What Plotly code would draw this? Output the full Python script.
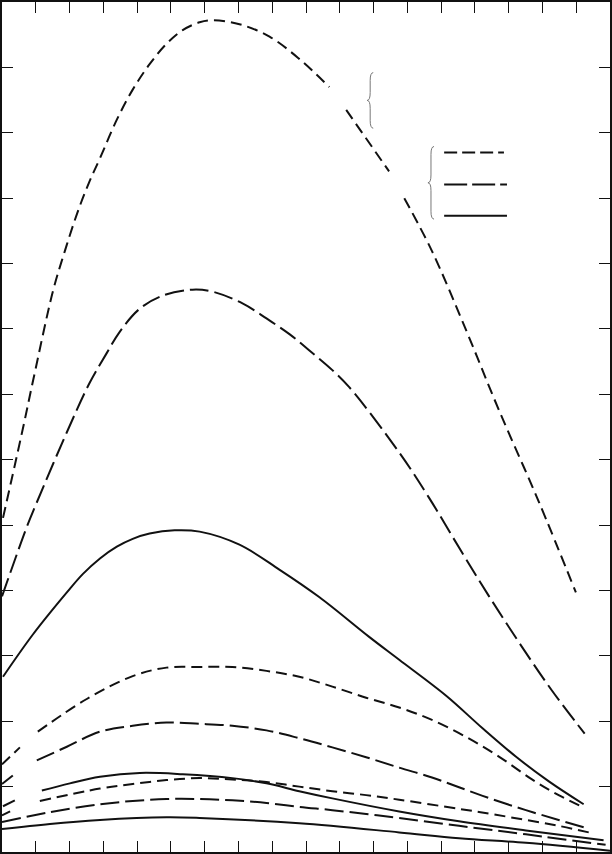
import plotly.graph_objects as go

# ---- data (x in axis units 0..18, y in axis units 0..13) ----
# upper group
x_up_short = [0.03, 0.62, 0.92, 1.51, 1.86, 2.22, 2.57, 2.90, 3.40, 3.87, 4.37, 4.87, 5.35, 5.85, 6.23,
              7.03, 7.92, 8.80, 9.69, None, 10.19, 11.46, None, 11.91, 12.73, 13.74, 14.71, 15.89, 16.99]
y_up_short = [5.11, 6.48, 7.21, 8.58, 9.19, 9.76, 10.23, 10.61, 11.20, 11.66, 12.05, 12.36, 12.57, 12.69, 12.72,
              12.66, 12.47, 12.13, 11.70, None, 11.35, 10.41, None, 10.00, 9.19, 7.98, 6.76, 5.36, 3.97]

x_up_long = [0.0, 0.74, 1.00, 1.92, 2.60, 3.10, 3.49, 4.08, 4.76, 5.64, 6.23, 7.12, 7.83, 8.51,
             9.10, 9.78, 10.28, 11.76, 12.64, 13.62, 14.42, 15.30, 16.28, 17.25]
y_up_long = [3.91, 4.98, 5.31, 6.42, 7.18, 7.63, 7.96, 8.31, 8.51, 8.60, 8.57, 8.39, 8.16, 7.92,
             7.67, 7.37, 7.11, 6.11, 5.42, 4.58, 3.91, 3.21, 2.47, 1.81]

x_up_solid = [0.03, 0.92, 1.92, 2.39, 2.90, 3.40, 3.87, 4.37, 5.11, 5.85, 7.03, 8.21, 9.39, 10.87, 11.76, 13.15,
              14.21, 15.21, 16.19, 17.22]
y_up_solid = [2.68, 3.33, 3.97, 4.25, 4.49, 4.67, 4.79, 4.87, 4.92, 4.90, 4.70, 4.32, 3.90, 3.29, 2.94, 2.39,
              1.90, 1.46, 1.08, 0.73]

# middle group
x_mid_short = [0.0, 0.53, None, 1.06, 2.51, 3.87, 4.87, 5.85, 6.82, 7.83, 8.80, 9.78, 10.78, 11.76,
               12.73, 13.74, 14.71, 15.69, 16.48, 17.22]
y_mid_short = [1.34, 1.60, None, 1.84, 2.34, 2.69, 2.82, 2.83, 2.83, 2.77, 2.68, 2.53, 2.36, 2.21,
               2.02, 1.76, 1.46, 1.11, 0.87, 0.68]

x_mid_long = [0.0, 0.32, None, 1.03, 1.92, 2.90, 3.87, 4.87, 5.85, 6.82, 7.83, 8.80, 9.78, 10.78,
              11.76, 12.73, 13.53, 14.50, 15.51, 16.48, 17.28]
y_mid_long = [1.04, 1.17, None, 1.40, 1.61, 1.84, 1.93, 1.98, 1.96, 1.93, 1.86, 1.74, 1.60, 1.45,
              1.29, 1.14, 0.99, 0.81, 0.64, 0.49, 0.37]

x_mid_solid = [0.03, 0.38, None, 1.18, 2.01, 2.90, 4.08, 5.35, 6.82, 7.83, 8.80, 9.78, 11.76,
               13.53, 15.51, 17.81]
y_mid_solid = [0.70, 0.79, None, 0.94, 1.05, 1.15, 1.21, 1.19, 1.13, 1.05, 0.93, 0.82, 0.62,
               0.47, 0.33, 0.18]

# lower group
x_low_short = [0.0, 0.24, None, 1.12, 2.90, 3.87, 4.87, 5.85, 6.82, 7.83, 8.80, 9.78, 10.78, 11.76,
               13.53, 14.50, 15.51, 16.48, 17.37]
y_low_short = [0.56, 0.62, None, 0.78, 0.97, 1.04, 1.10, 1.13, 1.11, 1.07, 1.00, 0.93, 0.87, 0.80,
               0.66, 0.58, 0.49, 0.40, 0.30]

x_low_long = [0.0, 1.42, 2.90, 3.87, 4.87, 5.85, 6.82, 7.83, 8.80, 9.78, 10.78, 11.76, 13.53, 15.51, 17.87]
y_low_long = [0.46, 0.61, 0.73, 0.78, 0.81, 0.81, 0.79, 0.75, 0.69, 0.64, 0.58, 0.52, 0.40, 0.27, 0.11]

x_low_solid = [0.0, 1.42, 2.90, 4.87, 5.85, 8.80, 11.76, 13.53, 15.51, 18.0]
y_low_solid = [0.35, 0.43, 0.49, 0.53, 0.52, 0.44, 0.30, 0.21, 0.14, 0.02]

SHORT = "11px,6px"
LONG = "19px,6px"
INK = "#111111"

series = [
    (x_up_short, y_up_short, SHORT), (x_up_long, y_up_long, LONG), (x_up_solid, y_up_solid, "solid"),
    (x_mid_short, y_mid_short, SHORT), (x_mid_long, y_mid_long, LONG), (x_mid_solid, y_mid_solid, "solid"),
    (x_low_short, y_low_short, SHORT), (x_low_long, y_low_long, LONG), (x_low_solid, y_low_solid, "solid"),
]

fig = go.Figure()
for xs, ys, dash in series:
    fig.add_trace(go.Scatter(x=xs, y=ys, mode="lines", connectgaps=False,
                             line=dict(color=INK, width=2, dash=dash, shape="spline", smoothing=1.0),
                             hoverinfo="skip", showlegend=False))


def brace(x, ytop, ybot, w=0.09, d=0.12):
    ym = (ytop + ybot) / 2
    return (f"M {x + w},{ytop} Q {x},{ytop} {x},{ytop - d} L {x},{ym + d} "
            f"Q {x},{ym} {x - w},{ym} Q {x},{ym} {x},{ym - d} "
            f"L {x},{ybot + d} Q {x},{ybot} {x + w},{ybot}")


shapes = [
    dict(type="path", path=brace(10.90, 11.92, 11.07), xref="x", yref="y",
         line=dict(color="#777777", width=1)),
    dict(type="path", path=brace(12.70, 10.79, 9.68), xref="x", yref="y",
         line=dict(color="#777777", width=1)),
    dict(type="line", x0=13.09, x1=14.86, y0=10.70, y1=10.70, xref="x", yref="y",
         line=dict(color=INK, width=2, dash="13px,5px")),
    dict(type="line", x0=13.09, x1=14.95, y0=10.21, y1=10.21, xref="x", yref="y",
         line=dict(color=INK, width=2, dash="23px,5px")),
    dict(type="line", x0=13.09, x1=14.95, y0=9.73, y1=9.73, xref="x", yref="y",
         line=dict(color=INK, width=2)),
]

axis_common = dict(showgrid=False, zeroline=False, showticklabels=False, ticks="inside",
                   ticklen=11, tickwidth=1, tickcolor=INK, showline=True, linecolor=INK,
                   linewidth=1.5, mirror="ticks", dtick=1, tick0=0)

fig.update_layout(
    width=612, height=854,
    margin=dict(l=2, r=1, t=0, b=2),
    paper_bgcolor="white", plot_bgcolor="white",
    xaxis=dict(range=[0, 18], **axis_common),
    yaxis=dict(range=[0, 13], **axis_common),
    shapes=shapes,
    showlegend=False,
)

fig.write_html("out.html", config={"displayModeBar": False},
               post_script="document.body.style.margin='0';document.body.style.padding='0';")
